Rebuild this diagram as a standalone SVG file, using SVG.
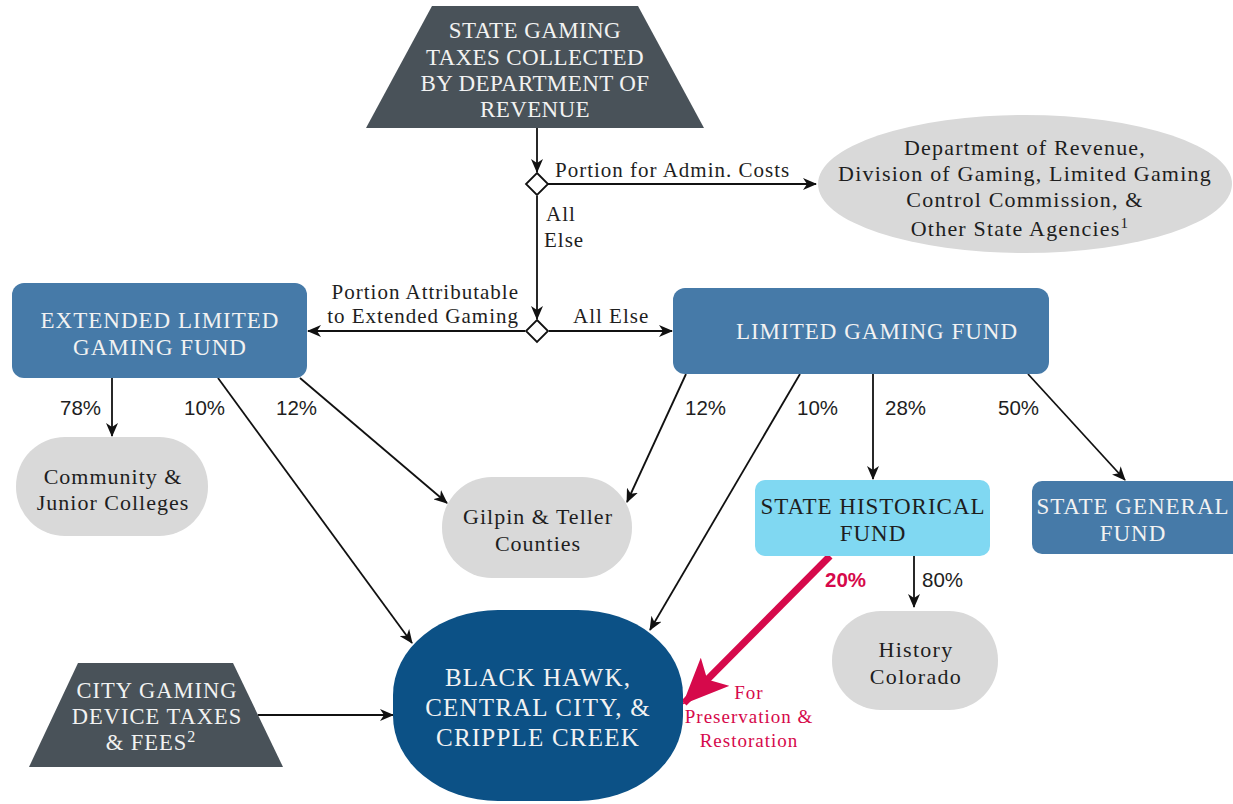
<svg xmlns="http://www.w3.org/2000/svg" width="1233" height="804" viewBox="0 0 1233 804">
<style>
.srf{font-family:"Liberation Serif","Times New Roman",serif}
.w{fill:#f2f2f2}
.k{fill:#1e1e1e}
.pct{font-family:"Liberation Sans",Arial,sans-serif;font-size:20.5px;fill:#1e1e1e}
.ln{stroke:#111;stroke-width:1.8;fill:none}
.lbl{font-family:"Liberation Serif","Times New Roman",serif;font-size:21px;letter-spacing:1px;fill:#1e1e1e}
.red{fill:#d6094b}
</style>
<defs>
<marker id="ah" markerWidth="14" markerHeight="12" refX="13" refY="6" orient="auto" markerUnits="userSpaceOnUse">
<path d="M0,0 L14,6 L0,12 L4,6 z" fill="#111"/>
</marker>
<marker id="rah" markerWidth="46" markerHeight="40" refX="44" refY="20" orient="auto" markerUnits="userSpaceOnUse">
<path d="M0,0 L46,20 L0,40 L11,20 z" fill="#d6094b"/>
</marker>
</defs>
<rect width="1233" height="804" fill="#fff"/>

<g id="connectors">
<line class="ln" x1="537" y1="128" x2="537" y2="172" marker-end="url(#ah)"/>
<line class="ln" x1="548" y1="184" x2="816" y2="184" marker-end="url(#ah)"/>
<line class="ln" x1="537" y1="196" x2="537" y2="319" marker-end="url(#ah)"/>
<line class="ln" x1="525" y1="331" x2="308" y2="331" marker-end="url(#ah)"/>
<line class="ln" x1="549" y1="331" x2="672" y2="331" marker-end="url(#ah)"/>
<line class="ln" x1="112" y1="378" x2="112" y2="436" marker-end="url(#ah)"/>
<line class="ln" x1="218" y1="378" x2="412" y2="643" marker-end="url(#ah)"/>
<line class="ln" x1="300" y1="378" x2="447" y2="503" marker-end="url(#ah)"/>
<line class="ln" x1="686" y1="374" x2="627" y2="502" marker-end="url(#ah)"/>
<line class="ln" x1="800" y1="374" x2="650" y2="630" marker-end="url(#ah)"/>
<line class="ln" x1="873" y1="374" x2="873" y2="479" marker-end="url(#ah)"/>
<line class="ln" x1="1028" y1="374" x2="1125" y2="480" marker-end="url(#ah)"/>
<line class="ln" x1="914" y1="556" x2="914" y2="607" marker-end="url(#ah)"/>
<line class="ln" x1="258" y1="715" x2="393" y2="715" marker-end="url(#ah)"/>
<line x1="830" y1="556" x2="684" y2="703" stroke="#d6094b" stroke-width="7" marker-end="url(#rah)"/>
<path d="M537,173 L548,184 L537,195 L526,184 z" fill="#fff" stroke="#111" stroke-width="1.8"/>
<path d="M537,320 L548,331 L537,342 L526,331 z" fill="#fff" stroke="#111" stroke-width="1.8"/>
<text class="lbl" x="555" y="177">Portion for Admin. Costs</text>
<text class="lbl" x="546" y="221">All</text>
<text class="lbl" x="544" y="247">Else</text>
<text class="lbl" x="519" y="299" text-anchor="end">Portion Attributable</text>
<text class="lbl" x="519" y="323" text-anchor="end">to Extended Gaming</text>
<text class="lbl" x="573" y="323">All Else</text>
<text class="pct" x="60" y="415">78%</text>
<text class="pct" x="184" y="415">10%</text>
<text class="pct" x="276" y="415">12%</text>
<text class="pct" x="685" y="415">12%</text>
<text class="pct" x="797" y="415">10%</text>
<text class="pct" x="885" y="415">28%</text>
<text class="pct" x="998" y="415">50%</text>
<text class="pct" x="922" y="587">80%</text>
<text class="pct red" x="825" y="587" font-weight="bold">20%</text>
<g class="srf red" font-size="19" letter-spacing="1" text-anchor="middle">
<text x="749" y="699">For</text>
<text x="749" y="723">Preservation &amp;</text>
<text x="749" y="747">Restoration</text>
</g>
</g>

<g id="state-gaming-taxes">
<path d="M432,6 L638,6 L704,128 L366,128 z" fill="#495259"/>
<g class="srf w" font-size="23" letter-spacing="0.4" text-anchor="middle">
<text x="535" y="38">STATE GAMING</text>
<text x="535" y="65">TAXES COLLECTED</text>
<text x="535" y="91">BY DEPARTMENT OF</text>
<text x="535" y="117">REVENUE</text>
</g>
</g>

<g id="dept-revenue">
<ellipse cx="1025" cy="184" rx="207" ry="69" fill="#d9d9d9"/>
<g class="srf k" font-size="22" letter-spacing="1.2" text-anchor="middle">
<text x="1025" y="155">Department of Revenue,</text>
<text x="1025" y="181">Division of Gaming, Limited Gaming</text>
<text x="1025" y="207">Control Commission, &amp;</text>
<text x="1020" y="236">Other State Agencies<tspan font-size="15" dy="-8">1</tspan></text>
</g>
</g>

<g id="extended-fund">
<rect x="12" y="283" width="295" height="95" rx="12" fill="#467aa8"/>
<g class="srf w" font-size="23" letter-spacing="1" text-anchor="middle">
<text x="160" y="328">EXTENDED LIMITED</text>
<text x="160" y="355">GAMING FUND</text>
</g>
</g>

<g id="limited-fund">
<rect x="673" y="288" width="376" height="86" rx="12" fill="#467aa8"/>
<text class="srf w" font-size="23" letter-spacing="1" x="877" y="339" text-anchor="middle">LIMITED GAMING FUND</text>
</g>

<g id="community-colleges">
<rect x="16" y="437" width="192" height="99" rx="49" fill="#d9d9d9"/>
<g class="srf k" font-size="22" letter-spacing="1" text-anchor="middle">
<text x="113" y="484">Community &amp;</text>
<text x="113" y="510">Junior Colleges</text>
</g>
</g>

<g id="gilpin-teller">
<rect x="442" y="477" width="190" height="101" rx="50" fill="#d9d9d9"/>
<g class="srf k" font-size="22" letter-spacing="1" text-anchor="middle">
<text x="538" y="524">Gilpin &amp; Teller</text>
<text x="538" y="551">Counties</text>
</g>
</g>

<g id="state-historical-fund">
<rect x="755" y="480" width="235" height="76" rx="10" fill="#80d8f2"/>
<g class="srf k" font-size="23" letter-spacing="1" text-anchor="middle">
<text x="873" y="514">STATE HISTORICAL</text>
<text x="873" y="541">FUND</text>
</g>
</g>

<g id="state-general-fund">
<rect x="1032" y="481" width="210" height="73" rx="10" fill="#467aa8"/>
<g class="srf w" font-size="23" letter-spacing="1" text-anchor="middle">
<text x="1133" y="514">STATE GENERAL</text>
<text x="1133" y="541">FUND</text>
</g>
</g>

<g id="history-colorado">
<rect x="832" y="611" width="166" height="99" rx="49" fill="#d9d9d9"/>
<g class="srf k" font-size="22" letter-spacing="1.3" text-anchor="middle">
<text x="916" y="657">History</text>
<text x="916" y="684">Colorado</text>
</g>
</g>

<g id="black-hawk">
<rect x="393" y="610" width="290" height="191" rx="105" ry="85" fill="#0c5186"/>
<g class="srf w" font-size="25" letter-spacing="1.2" text-anchor="middle">
<text x="538" y="686">BLACK HAWK,</text>
<text x="538" y="716">CENTRAL CITY, &amp;</text>
<text x="538" y="746">CRIPPLE CREEK</text>
</g>
</g>

<g id="city-gaming">
<path d="M78,663 L233,663 L283,767 L29,767 z" fill="#495259"/>
<g class="srf w" font-size="22.5" letter-spacing="1" text-anchor="middle">
<text x="157" y="698">CITY GAMING</text>
<text x="157" y="724">DEVICE TAXES</text>
<text x="151" y="750">&amp; FEES<tspan font-size="16" dy="-8">2</tspan></text>
</g>
</g>
</svg>
